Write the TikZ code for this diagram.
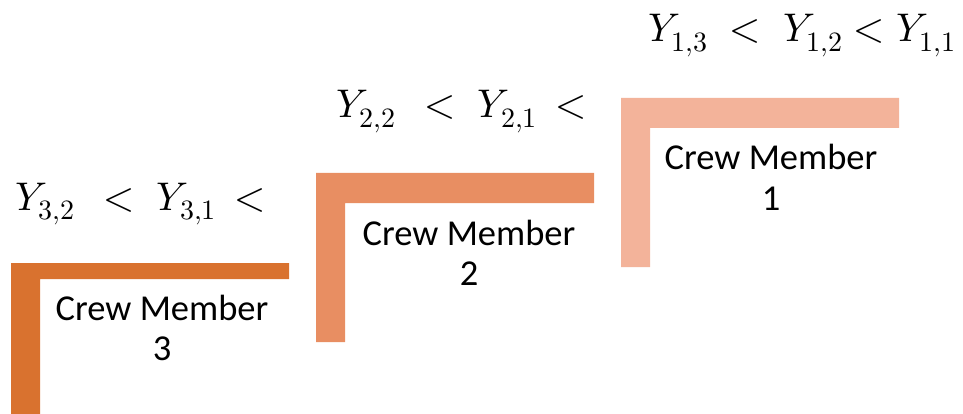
\documentclass[tikz,border=0pt]{standalone}
\usepackage{fontspec}
\usepackage{unicode-math}
\setmainfont{Carlito}
\setmathfont{Latin Modern Math}
\definecolor{crewdark}{HTML}{D9722F}
\definecolor{crewmid}{HTML}{E88E62}
\definecolor{crewlight}{HTML}{F3B39A}
\begin{document}
\begin{tikzpicture}[x=1pt,y=-1pt,
  crewlabel/.style={align=center,inner sep=0pt,anchor=base,
    font=\fontsize{36.5}{40}\selectfont},
  orderlabel/.style={inner sep=0pt,anchor=base west,
    font=\fontsize{40}{44}\selectfont}]
\useasboundingbox (0,0) rectangle (963,414);
% L-shaped brackets, one per crew member
\fill[crewdark]  (11,263) -- (289,263) -- (289,279) -- (40,279) -- (40,414) -- (11,414) -- cycle;
\fill[crewmid]   (316,173) -- (594,173) -- (594,203) -- (345,203) -- (345,342) -- (316,342) -- cycle;
\fill[crewlight] (621,98) -- (899,98) -- (899,128) -- (650,128) -- (650,267) -- (621,267) -- cycle;
% crew member names (anchored at the baseline of the number line)
\node[crewlabel] (c3) at (162,360) {Crew Member\\3};
\node[crewlabel] (c2) at (469,285) {Crew Member\\2};
\node[crewlabel] (c1) at (771,210) {Crew Member\\1};
% orderings
\node[orderlabel] (o3) at (15,210) {$Y_{3,2}\;\,<\;Y_{3,1}\,<$};
\node[orderlabel] (o2) at (336,118) {$Y_{2,2}\;\,<\;Y_{2,1}\,<$};
\node[orderlabel] (o1) at (648,42) {$Y_{1,3}\;<\;Y_{1,2}<Y_{1,1}$};
\end{tikzpicture}
\end{document}
